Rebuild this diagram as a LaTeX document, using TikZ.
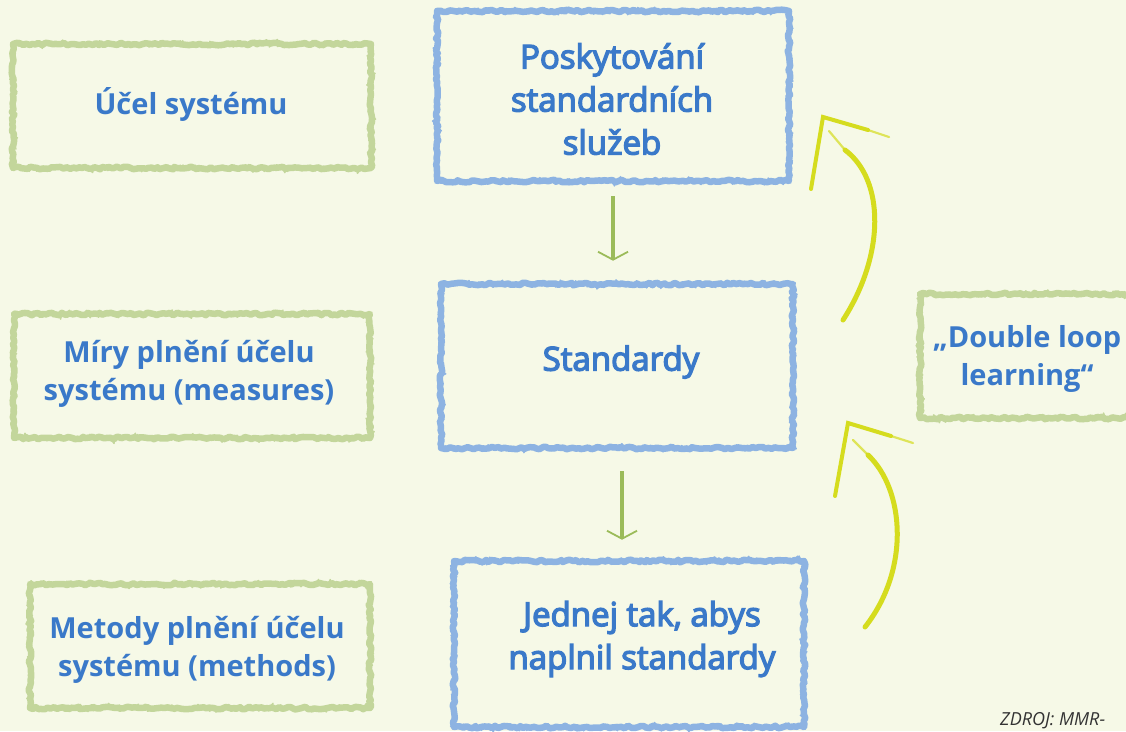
\documentclass[tikz,border=0pt]{standalone}
\usepackage{fontspec}
\setmainfont{Open Sans}
\newfontfamily\semib{Open Sans}[FakeBold=4]
\usetikzlibrary{decorations.pathmorphing,arrows.meta}

\definecolor{bgcream}{HTML}{F6F9E7}
\definecolor{framegreen}{HTML}{C3D69B}
\definecolor{frameblue}{HTML}{8DB3E2}
\definecolor{textblue}{HTML}{3A79C9}
\definecolor{arrowgreen}{HTML}{9BBB59}
\definecolor{loopyellow}{HTML}{D5DC1E}
\definecolor{sourcegray}{HTML}{333333}

\tikzset{
  roughbox/.style={
    draw, line width=6.5pt, line join=round,
    decorate, decoration={random steps, segment length=3pt, amplitude=1.3pt},
    postaction={draw, line width=1.5pt, decorate,
      decoration={random steps, segment length=2pt, amplitude=3.8pt}},
    inner sep=0pt},
  greenbox/.style={roughbox, color=framegreen},
  bluebox/.style={roughbox, color=frameblue},
  greentext/.style={align=center, inner sep=0pt, text=textblue,
    font=\bfseries\fontsize{29}{38}\selectfont},
  bluetext/.style={align=center, inner sep=0pt, text=textblue,
    font=\semib\fontsize{33}{43}\selectfont},
  downarrow/.style={draw=arrowgreen, line width=3.5pt,
    -{Straight Barb[length=8pt,width=30pt,line width=1.8pt]}},
  loopline/.style={draw=loopyellow, line width=5pt, line cap=round},
  loophead/.style={draw=loopyellow, line width=4pt, line cap=round},
  loopfade/.style={draw=loopyellow, line width=2.2pt, line cap=round, opacity=0.7},
}

\begin{document}
\begin{tikzpicture}[x=1pt,y=-1pt]
  % canvas
  \fill[bgcream] (0,0) rectangle (1126,731);
  \useasboundingbox (0,0) rectangle (1126,731);
  \clip (0,0) rectangle (1126,731);

  % left column frames and labels
  \node[greenbox, minimum width=358pt, minimum height=124pt] (purpose) at (192,106) {};
  \node[greenbox, minimum width=356pt, minimum height=124pt] (measures) at (192,376) {};
  \node[greenbox, minimum width=340pt, minimum height=124pt] (methods) at (200,646) {};
  \node[greentext] (purposeT) at (191,104) {Účel systému};
  \node[greentext] (measuresT) at (189,374) {Míry plnění účelu\\systému (measures)};
  \node[greentext] (methodsT) at (197,650) {Metody plnění účelu\\systému (methods)};

  % middle column frames and labels
  \node[bluebox, minimum width=352pt, minimum height=170pt] (services) at (613,96) {};
  \node[bluebox, minimum width=352pt, minimum height=164pt] (standards) at (617,366) {};
  \node[bluebox, minimum width=350pt, minimum height=166pt] (act) at (629,644) {};
  \node[bluetext] (servicesT) at (612,99) {Poskytování\\standardních\\služeb};
  \node[bluetext] (standardsT) at (621,362) {Standardy};
  \node[bluetext] (actT) at (642,639) {Jednej tak, abys\\naplnil standardy};

  % right frame
  \node[greenbox, minimum width=214pt, minimum height=124pt] (loop) at (1027,356) {};
  \node[greentext] (loopT) at (1027,359) {„Double loop\\learning“};

  % downward flow
  \draw[downarrow, shorten <=12pt, shorten >=20pt] (services.south) -- (services.south |- standards.north);
  \draw[downarrow, shorten <=20pt, shorten >=18pt] (standards.south -| 622,0) -- (act.north -| 622,0);

  % upper loop arrow
  \coordinate (ua0) at (843,320);
  \coordinate (ua1) at (829,131);
  \coordinate (uatip) at (823,117);
  \coordinate (ual) at (811,189);
  \coordinate (uar) at (889,137);
  \draw[loopline] (ua0) .. controls (885,255) and (885,180) .. (845,150);
  \draw[loopfade] (845,150) -- (ua1);
  \draw[loophead] (ual) -- (uatip) -- (868,130);
  \draw[loopfade] (868,130) -- (uar);

  % lower loop arrow
  \coordinate (la0) at (865,627);
  \coordinate (la1) at (853,440);
  \coordinate (latip) at (848,423);
  \coordinate (lal) at (835,496);
  \coordinate (lar) at (913,443);
  \draw[loopline] (la0) .. controls (910,570) and (905,490) .. (868,455);
  \draw[loopfade] (868,455) -- (la1);
  \draw[loophead] (lal) -- (latip) -- (891,436);
  \draw[loopfade] (891,436) -- (lar);

  % source note
  \node[anchor=base west, inner sep=0pt, text=sourcegray,
        font=\itshape\fontsize{18}{22}\selectfont] (source) at (1000,725) {ZDROJ: MMR-};
\end{tikzpicture}
\end{document}
